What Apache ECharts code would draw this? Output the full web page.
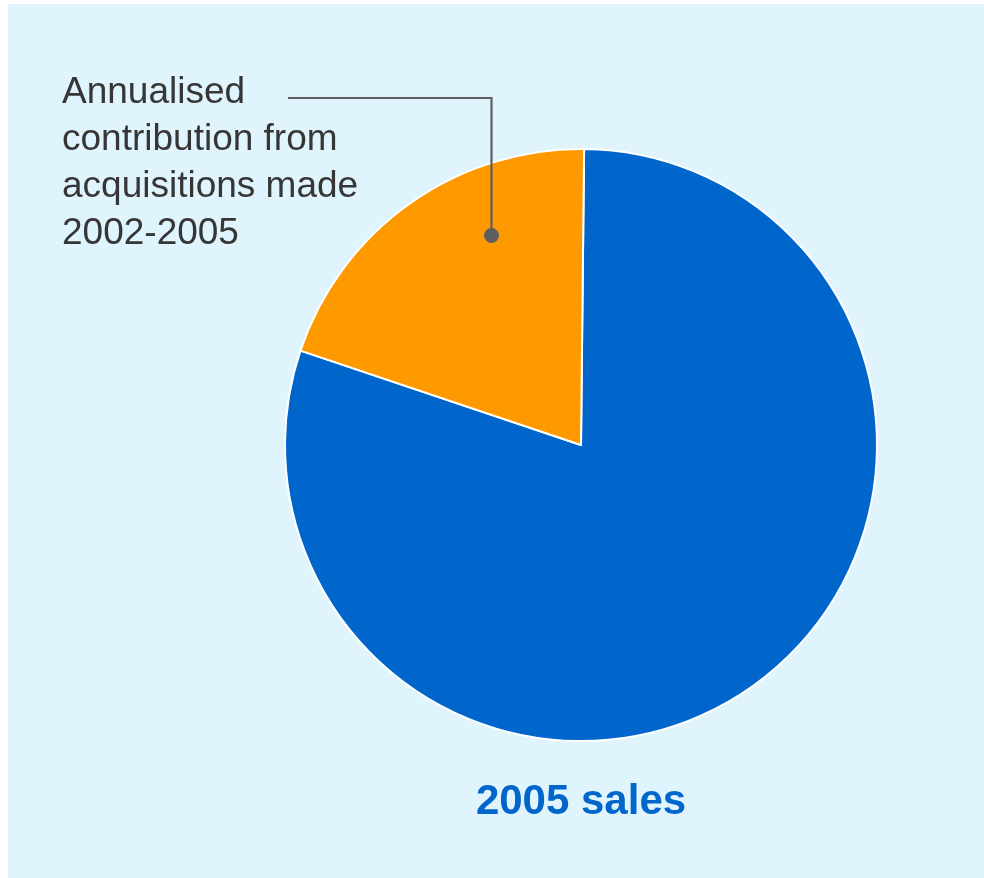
<!DOCTYPE html>
<html>
<head>
<meta charset="utf-8">
<script src="https://cdn.jsdelivr.net/npm/echarts@6/dist/echarts.min.js"></script>
<style>
  html, body { margin: 0; padding: 0; background: #ffffff; }
  #chart { width: 984px; height: 878px; }
</style>
</head>
<body>
<div id="chart"></div>
<script>
// Share of 2005 sales (percent)
const categories = ['Organic sales', 'Annualised contribution from acquisitions made 2002-2005'];
const shares = [80, 20];
const sliceColors = ['#0066CC', '#FF9900'];
const calloutLines = ['Annualised', 'contribution from', 'acquisitions made', '2002-2005'];
const caption = '2005 sales';

const cx = 581, cy = 445, radius = 296;
const startAngle = 89.4;

// Callout anchor: placed inside the acquisitions slice, a third of the way in from its end edge
const total = shares.reduce((a, b) => a + b, 0);
const acqStart = startAngle - 360 * shares[0] / total;   // slice runs clockwise from here...
const acqEnd = startAngle - 360;                          // ...to here
const anchorDeg = acqEnd + (acqStart - acqEnd) * 0.33 + 360;
const anchorR = radius * 0.77;
const ax = cx + anchorR * Math.cos(anchorDeg * Math.PI / 180);
const ay = cy - anchorR * Math.sin(anchorDeg * Math.PI / 180);
const elbowY = 98;
const lineStartX = 288;

const chart = echarts.init(document.getElementById('chart'), null, { renderer: 'canvas' });

chart.setOption({
  backgroundColor: '#ffffff',
  animation: false,
  graphic: [
    {
      type: 'rect', z: -10, silent: true,
      shape: { x: 8, y: 4, width: 976, height: 874 },
      style: { fill: '#E0F4FD' }
    },
    {
      type: 'polyline', z: 10, silent: true,
      shape: { points: [[lineStartX, elbowY], [Math.round(ax) + 0.5, elbowY], [Math.round(ax) + 0.5, ay]] },
      style: { stroke: '#5F5F5F', lineWidth: 2.2, fill: null }
    },
    {
      type: 'circle', z: 11, silent: true,
      shape: { cx: Math.round(ax) + 0.5, cy: ay, r: 7.5 },
      style: { fill: '#5F5F5F' }
    },
    {
      type: 'text', z: 10, silent: true,
      x: 62, y: 69,
      style: {
        text: calloutLines.join('\n'),
        fontFamily: 'Arial, "Liberation Sans", sans-serif',
        fontSize: 37,
        lineHeight: 47,
        fill: '#363636',
        textAlign: 'left',
        textVerticalAlign: 'top'
      }
    },
    {
      type: 'text', z: 10, silent: true,
      x: cx, y: 823,
      style: {
        text: caption,
        fontFamily: 'Arial, "Liberation Sans", sans-serif',
        fontWeight: 'bold',
        fontSize: 42,
        fill: '#0066CC',
        textAlign: 'center',
        textVerticalAlign: 'bottom'
      }
    }
  ],
  series: [{
    type: 'pie',
    center: [cx, cy],
    radius: radius,
    startAngle: startAngle,
    clockwise: true,
    label: { show: false },
    labelLine: { show: false },
    emphasis: { disabled: true },
    itemStyle: { borderColor: '#ffffff', borderWidth: 2 },
    data: categories.map((name, i) => ({
      name: name,
      value: shares[i],
      itemStyle: { color: sliceColors[i] }
    }))
  }]
});
</script>
</body>
</html>
